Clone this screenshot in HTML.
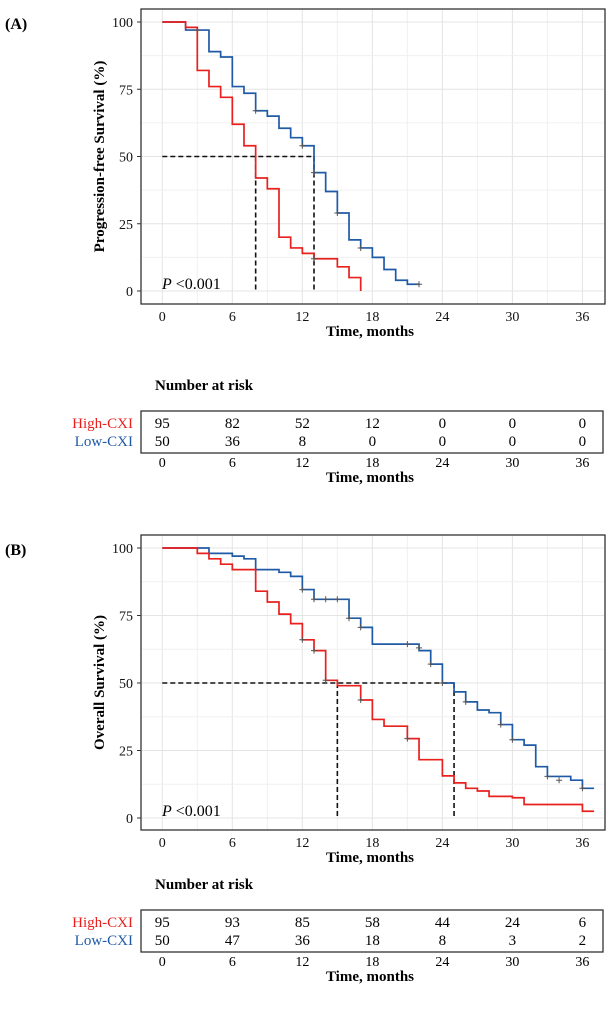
<!DOCTYPE html>
<html><head><meta charset="utf-8"><style>
body{margin:0;background:#fff;}
svg text{font-family:"Liberation Serif",serif;}
</style></head><body>
<svg id="c" width="614" height="1015" viewBox="0 0 614 1015" xmlns="http://www.w3.org/2000/svg"></svg>
<script>
const xTicks=[0,6,12,18,24,30,36];
const yTicks=[0,25,50,75,100];
// Panel A step data [time, survival%]
const aHigh=[[0,100],[2,98],[3,82],[4,76],[5,72],[6,62],[7,54],[8,42],[9,38],[10,20],[11,16],[12,14],[13,12],[15,9],[16,5],[17,0]];
const aLow=[[0,100],[2,97],[4,89],[5,87],[6,76],[7,73.5],[8,67],[9,65],[10,60.5],[11,57],[12,54],[13,44],[14,37],[15,29],[16,19],[17,16],[18,12.5],[19,8],[20,4],[21,2.5],[22,2.5]];
const aLowCens=[[3,97],[8,67],[12,54],[13,44],[15,29],[17,16],[22,2.5]];
const aHighCens=[[13,12]];
const aMedians=[8,13];
// Panel B
const bHigh=[[0,100],[3,98],[4,96],[5,94],[6,92],[8,84],[9,80],[10,75.5],[11,72],[12,66],[13,62],[14,51],[15,49],[17,43.7],[18,36.5],[19,34],[21,29.4],[22,21.6],[24,15.6],[25,13],[26,11],[27,10],[28,8],[30,7.5],[31,5],[36,2.5],[37,2.5]];
const bLow=[[0,100],[4,98],[6,97],[7,96],[8,92],[10,91],[11,89.5],[12,84.6],[13,81],[16,74],[17,70.6],[18,64.4],[22,62],[23,57],[24,50],[25,46.7],[26,43],[27,40],[28,39],[29,34.6],[30,29],[31,27],[32,19],[33,15.4],[35,14],[36,11],[37,11]];
const bHighCens=[[12,66],[13,62],[14,51],[17,43.7],[21,29.4]];
const bLowCens=[[12,84.6],[13,81],[14,81],[15,81],[16,74],[17,70.6],[21,64.4],[22,63],[23,57],[24,50],[26,43],[29,34.6],[30,29],[33,15.4],[34,14],[36,11]];
const bMedians=[15,25];
const riskA_high=[95,82,52,12,0,0,0], riskA_low=[50,36,8,0,0,0,0];
const riskB_high=[95,93,85,58,44,24,6], riskB_low=[50,47,36,18,8,3,2];

const svg=document.getElementById('c');
const NS='http://www.w3.org/2000/svg';
function mk(tag,attrs,parent){const e=document.createElementNS(NS,tag);for(const k in attrs)e.setAttribute(k,attrs[k]);(parent||svg).appendChild(e);return e;}
function txt(x,y,s,attrs,parent){const t=mk('text',Object.assign({x:x,y:y},attrs),parent);t.textContent=s;return t;}
const x0=162.3, pxm=11.67;
function sx(t){return x0+t*pxm;}

function panel(label,top,y0,bottom,yTitle,hi,lo,hiC,loC,med,riskTop,rH,rL,name){
  const g=mk('g',{});
  
  
  const sy=v=>y0-(y0-top-13)*v/100;
  // grid
  for(let m=0;m<=39;m+=3){if(sx(m)>604)break;const l=mk('line',{x1:sx(m),x2:sx(m),y1:top,y2:bottom,stroke:m%6?'#f0f0f0':'#e4e4e4','stroke-width':1},g);}
  for(let v=0;v<=100;v+=12.5){const l=mk('line',{x1:142,x2:604,y1:sy(v),y2:sy(v),stroke:v%25?'#f0f0f0':'#e4e4e4','stroke-width':1},g);}
  const fr=mk('rect',{x:141,y:top,width:464,height:bottom-top,fill:'none',stroke:'#333','stroke-width':1.3},g);
  
  // medians
  const mv=med.map(m=>sx(m));
  const d1=mk('path',{d:`M${sx(0)},${sy(50)}H${Math.max(...mv)}`+mv.map(x=>`M${x},${sy(50)}V${sy(0)}`).join(''),stroke:'#111','stroke-width':1.6,'stroke-dasharray':'5,3',fill:'none'},g);
  
  function curve(data,color,nm){let d=`M${sx(data[0][0])},${sy(data[0][1])}`;for(let i=1;i<data.length;i++){d+=`H${sx(data[i][0])}V${sy(data[i][1])}`;}
    const p=mk('path',{d:d,stroke:color,'stroke-width':1.7,fill:'none'},g);}
  curve(lo,'#1f5aa6','low-cxi-curve');curve(hi,'#e8201e','high-cxi-curve');
  function cens(arr,nm){arr.forEach(c=>{const p=mk('path',{d:`M${sx(c[0])-3},${sy(c[1])}h6M${sx(c[0])},${sy(c[1])-3}v6`,stroke:'#555','stroke-width':1},g);});}
  cens(hiC,'censor-mark-high');cens(loC,'censor-mark-low');
  // ticks
  yTicks.forEach(v=>{const t=txt(133,sy(v)+5,String(v),{'font-size':14,'text-anchor':'end',fill:'#111'},g);
    const l=mk('line',{x1:137,x2:141,y1:sy(v),y2:sy(v),stroke:'#333'},g);});
  xTicks.forEach(v=>{const t=txt(sx(v),bottom+17,String(v),{'font-size':14,'text-anchor':'middle',fill:'#111'},g);});
  const xt=txt(370,bottom+32,'Time, months',{'font-size':15,'font-weight':'bold','text-anchor':'middle'},g);
  const yt=txt(0,0,yTitle,{'font-size':15,'font-weight':'bold','text-anchor':'middle',transform:`translate(104,${(top+bottom)/2}) rotate(-90)`},g);
  const pl=txt(5,top+20,label,{'font-size':16,'font-weight':'bold'},g);
  const pv=mk('text',{x:162,y:sy(0)-2,'font-size':16},g);pv.innerHTML='<tspan font-style="italic">P</tspan> &lt;0.001';
  // risk table
  const nr=txt(155,riskTop-21,'Number at risk',{'font-size':15,'font-weight':'bold'},g);
  const rb=mk('rect',{x:141,y:riskTop,width:462,height:42,fill:'none',stroke:'#333','stroke-width':1.3},g);
  const l1=txt(133,riskTop+17,'High-CXI',{'font-size':15,'text-anchor':'end',fill:'#e8201e'},g);
  const l2=txt(133,riskTop+35,'Low-CXI',{'font-size':15,'text-anchor':'end',fill:'#1f5aa6'},g);
  xTicks.forEach((v,i)=>{
    const a=txt(sx(v),riskTop+17,String(rH[i]),{'font-size':15,'text-anchor':'middle'},g);
    const b=txt(sx(v),riskTop+35,String(rL[i]),{'font-size':15,'text-anchor':'middle'},g);
    const c=txt(sx(v),riskTop+56,String(v),{'font-size':14,'text-anchor':'middle'},g);
  });
  const xt2=txt(370,riskTop+71,'Time, months',{'font-size':15,'font-weight':'bold','text-anchor':'middle'},g);
}
panel('(A)',9,291,304,'Progression-free Survival (%)',aHigh,aLow,aHighCens,aLowCens,aMedians,411,riskA_high,riskA_low,'panel-a');
panel('(B)',535,818,830,'Overall Survival (%)',bHigh,bLow,bHighCens,bLowCens,bMedians,910,riskB_high,riskB_low,'panel-b');
</script>
</body></html>
